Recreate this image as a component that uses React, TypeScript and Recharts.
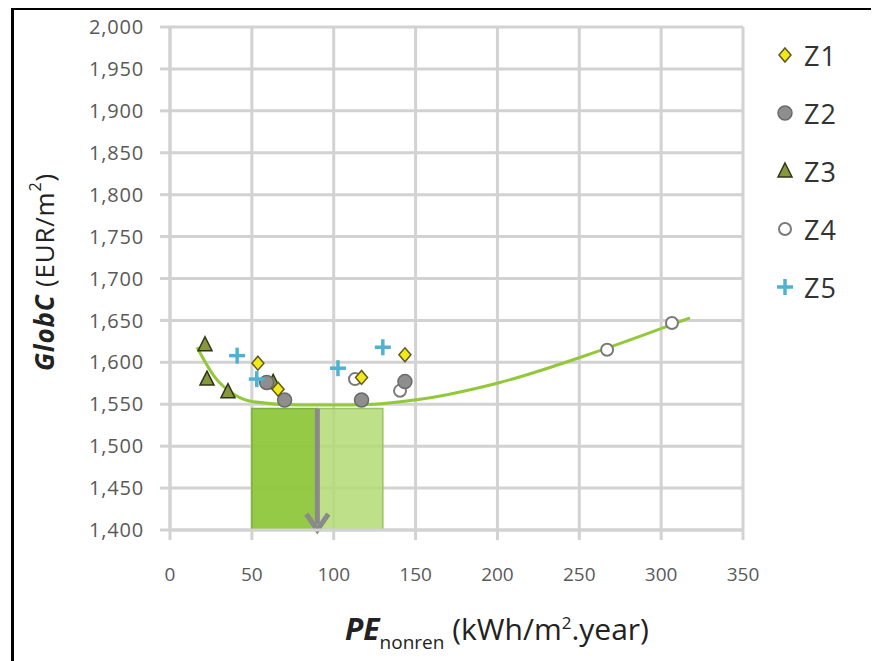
import {
  ComposedChart,
  Scatter,
  Line,
  XAxis,
  YAxis,
  CartesianGrid,
  ReferenceArea,
  ReferenceLine,
  Legend,
} from 'recharts';

const xTicks = [0, 50, 100, 150, 200, 250, 300, 350];
const yTicks = [1400, 1450, 1500, 1550, 1600, 1650, 1700, 1750, 1800, 1850, 1900, 1950, 2000];

// points (PE nonren, GlobC)
const z1 = [
  { x: 53.7, y: 1599 },
  { x: 66, y: 1568 },
  { x: 117, y: 1582 },
  { x: 143.5, y: 1609 },
];
const z2 = [
  { x: 59, y: 1576 },
  { x: 70, y: 1555 },
  { x: 117, y: 1555 },
  { x: 143.5, y: 1577 },
];
const z3 = [
  { x: 21.4, y: 1621 },
  { x: 22.6, y: 1580 },
  { x: 35.4, y: 1565 },
  { x: 63, y: 1576 },
];
const z4 = [
  { x: 113, y: 1580 },
  { x: 140.5, y: 1566 },
  { x: 267, y: 1615 },
  { x: 306.6, y: 1647 },
];
const z5 = [
  { x: 41, y: 1608 },
  { x: 53, y: 1580 },
  { x: 102.6, y: 1593 },
  { x: 130, y: 1618 },
];

// polynomial trend line
const trend = [
  { x: 16.5, y: 1618 },
  { x: 27.5, y: 1582 },
  { x: 39.7, y: 1561 },
  { x: 50.7, y: 1553 },
  { x: 79.4, y: 1549 },
  { x: 110, y: 1549 },
  { x: 152.7, y: 1556 },
  { x: 201.6, y: 1576 },
  { x: 262.6, y: 1614 },
  { x: 317.6, y: 1653 },
];

const optimumX = 90;
const bandLow = [50, 90];
const bandHigh = [90, 130];
const bandTop = 1545;

const gridColor = '#d2d2d2';
const tickColor = '#595959';
const font = '"Open Sans", "Liberation Sans", sans-serif';

const Diamond = ({ cx, cy }: any) => (
  <polygon
    points={`${cx},${cy - 7} ${cx + 6},${cy} ${cx},${cy + 7} ${cx - 6},${cy}`}
    fill="#f3e81a"
    stroke="#5d5a22"
    strokeWidth={1.5}
  />
);
const GreyDot = ({ cx, cy }: any) => (
  <circle cx={cx} cy={cy} r={7} fill="#8e8e8e" stroke="#6a6a6a" strokeWidth={1.5} />
);
const Tri = ({ cx, cy }: any) => (
  <polygon
    points={`${cx},${cy - 8} ${cx + 7},${cy + 6} ${cx - 7},${cy + 6}`}
    fill="#86973c"
    stroke="#2f351a"
    strokeWidth={1.5}
  />
);
const OpenDot = ({ cx, cy }: any) => (
  <circle cx={cx} cy={cy} r={6} fill="#fff" stroke="#7a7a7a" strokeWidth={2} />
);
const Plus = ({ cx, cy }: any) => (
  <g stroke="#4fb2d2" strokeWidth={3.5}>
    <line x1={cx - 8} y1={cy} x2={cx + 8} y2={cy} />
    <line x1={cx} y1={cy - 8} x2={cx} y2={cy + 8} />
  </g>
);

const legendItems = [
  { name: 'Z1', Icon: Diamond },
  { name: 'Z2', Icon: GreyDot },
  { name: 'Z3', Icon: Tri },
  { name: 'Z4', Icon: OpenDot },
  { name: 'Z5', Icon: Plus },
];

const renderLegend = () => (
  <div style={{ width: 100 }}>
    {legendItems.map(({ name, Icon }) => (
      <div key={name} style={{ height: 58, display: 'flex', alignItems: 'center' }}>
        <svg width={22} height={22}>
          <Icon cx={11} cy={11} />
        </svg>
        <span style={{ marginLeft: 8, fontSize: 27, letterSpacing: 1, fontFamily: font, color: '#333' }}>
          {name}
        </span>
      </div>
    ))}
  </div>
);

const Arrow = (props: any) => {
  const { x1, y1, y2 } = props;
  const tip = y2;
  return (
    <g>
      <line x1={x1} y1={y1} x2={x1} y2={tip - 6} stroke="#8a8a8a" strokeWidth={5} />
      <polyline
        points={`${x1 - 11},${tip - 16} ${x1},${tip} ${x1 + 11},${tip - 16}`}
        fill="none"
        stroke="#8a8a8a"
        strokeWidth={5}
      />
    </g>
  );
};

const fmt = (v: number) => v.toLocaleString('en-US');

export default function App() {
  return (
    <div style={{ position: 'relative', width: 871, height: 653, background: '#fff' }}>
      <div style={{ position: 'absolute', left: 3, top: -1, width: 868, height: 3, background: '#000' }} />
      <div style={{ position: 'absolute', left: 3, top: -1, width: 3, height: 654, background: '#000' }} />
      <ComposedChart width={871} height={653} margin={{ top: 19, right: 36, bottom: 71, left: 102 }}>
        <CartesianGrid stroke={gridColor} strokeWidth={3} />
        <XAxis
          type="number"
          dataKey="x"
          domain={[0, 350]}
          ticks={xTicks}
          interval={0}
          allowDataOverflow
          height={60}
          stroke={gridColor}
          strokeWidth={3}
          tickSize={10}
          tickMargin={28}
          tick={{ fill: tickColor, fontSize: 19, fontFamily: font }}
          label={{
            content: () => (
              <text x={489} y={632} textAnchor="middle" fontFamily={font} fontSize={30} fill="#222">
                <tspan fontWeight="bold" fontStyle="italic">PE</tspan>
                <tspan fontSize={19} dy={9}>nonren</tspan>
                <tspan dy={-9}> (kWh/m</tspan>
                <tspan fontSize={17} dy={-11}>2</tspan>
                <tspan dy={11}>.year)</tspan>
              </text>
            ),
          }}
        />
        <YAxis
          type="number"
          dataKey="y"
          domain={[1400, 2000]}
          ticks={yTicks}
          interval={0}
          allowDataOverflow
          width={60}
          stroke={gridColor}
          strokeWidth={3}
          tickSize={10}
          tickMargin={16}
          tickFormatter={fmt}
          tick={{ fill: tickColor, fontSize: 20, fontFamily: font, letterSpacing: 0.8 }}
          label={{
            content: () => (
              <text
                x={36}
                y={264}
                transform="rotate(-90, 36, 264)"
                textAnchor="middle"
                dominantBaseline="central"
                fontFamily={font}
                fontSize={26}
                letterSpacing={0.8}
                fill="#222"
              >
                <tspan fontWeight="bold" fontStyle="italic">GlobC</tspan>
                <tspan> (EUR/m</tspan>
                <tspan fontSize={16} dy={-9}>2</tspan>
                <tspan dy={9}>)</tspan>
              </text>
            ),
          }}
        />
        <ReferenceArea
          x1={bandLow[0]}
          x2={bandLow[1]}
          y1={1400}
          y2={bandTop}
          fill="#8fc73c"
          fillOpacity={0.95}
          stroke="#7fae3c"
          strokeWidth={1.5}
        />
        <ReferenceArea
          x1={bandHigh[0]}
          x2={bandHigh[1]}
          y1={1400}
          y2={bandTop}
          fill="#b2da74"
          fillOpacity={0.85}
          stroke="#9cc460"
          strokeWidth={1.5}
        />
        <ReferenceLine
          segment={[
            { x: optimumX, y: bandTop },
            { x: optimumX, y: 1400 },
          ]}
          shape={Arrow}
        />
        <Line
          data={trend}
          dataKey="y"
          type="monotone"
          stroke="#92c83a"
          strokeWidth={3}
          dot={false}
          legendType="none"
          isAnimationActive={false}
        />
        <Scatter name="Z3" data={z3} shape={Tri} isAnimationActive={false} />
        <Scatter name="Z4" data={z4} shape={OpenDot} isAnimationActive={false} />
        <Scatter name="Z2" data={z2} shape={GreyDot} isAnimationActive={false} />
        <Scatter name="Z5" data={z5} shape={Plus} isAnimationActive={false} />
        <Scatter name="Z1" data={z1} shape={Diamond} isAnimationActive={false} />
        <Legend
          layout="vertical"
          align="right"
          verticalAlign="top"
          content={renderLegend}
          wrapperStyle={{ position: 'absolute', left: 766, top: 18, width: 100 }}
        />
      </ComposedChart>
    </div>
  );
}
